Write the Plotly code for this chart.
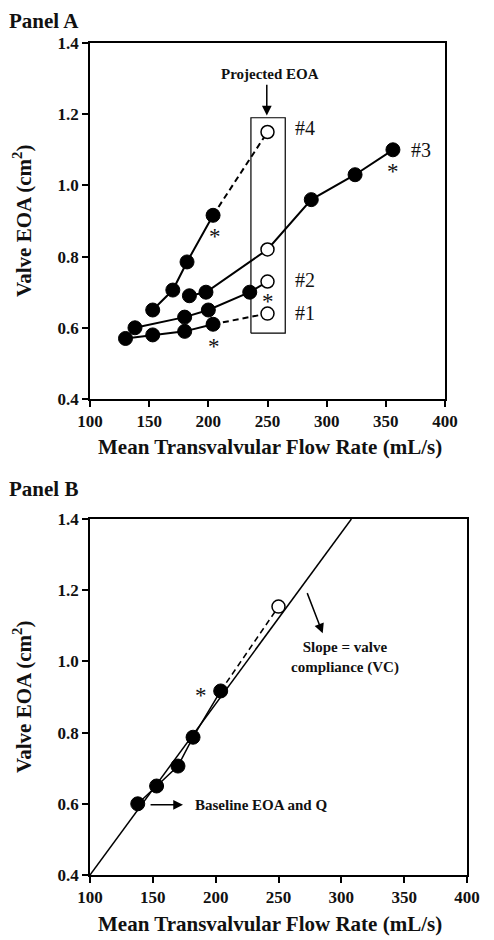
import plotly.graph_objects as go

# ---------------- data ----------------
# Panel A: four valves, measured (filled) and projected EOA at 250 mL/s (open)
s1_x = [130, 153, 180, 204]
s1_y = [0.57, 0.58, 0.59, 0.61]
s1_proj_x = [250]
s1_proj_y = [0.64]

s2_x = [138, 180, 200, 235]
s2_y = [0.60, 0.63, 0.65, 0.70]
s2_proj_x = [250]
s2_proj_y = [0.73]

s3_x = [184, 198, 287, 324, 356]
s3_y = [0.69, 0.70, 0.96, 1.03, 1.10]
s3_proj_x = [250]
s3_proj_y = [0.82]

s4_x = [153, 170, 182, 204]
s4_y = [0.65, 0.706, 0.785, 0.916]
s4_proj_x = [250]
s4_proj_y = [1.15]

# projected EOA box
box_x = [236, 265]
box_y = [0.585, 1.19]

# Panel B: one valve + linear fit (slope = valve compliance)
b_x = [138, 153, 170, 182, 204]
b_y = [0.60, 0.65, 0.706, 0.787, 0.917]
b_proj_x = [250]
b_proj_y = [1.154]
fit_x = [100, 308]
fit_y = [0.40, 1.40]

x_ticks = [100, 150, 200, 250, 300, 350, 400]
y_ticks = [0.4, 0.6, 0.8, 1.0, 1.2, 1.4]

FONT = "Liberation Serif"
W, H = 494, 940
OFF = 8  # page body margin of the html page

fig = go.Figure()

LW = 2
FILLED = dict(size=14, color="black", line=dict(color="black", width=1))
OPEN = dict(size=13, color="white", line=dict(color="black", width=1.5))
DASH = "6px,4px"


def add(x, y, xa, ya, mode="lines+markers", dash="solid", marker=None, width=LW):
    fig.add_trace(go.Scatter(x=x, y=y, xaxis=xa, yaxis=ya, mode=mode,
                             line=dict(color="black", width=width, dash=dash),
                             marker=marker, showlegend=False, hoverinfo="skip"))


# Panel A box (behind)
add([box_x[0], box_x[1], box_x[1], box_x[0], box_x[0]],
    [box_y[0], box_y[0], box_y[1], box_y[1], box_y[0]], "x", "y", mode="lines", width=1.2)

# series #1 : solid measured, dashed to projection
add(s1_x[-1:] + s1_proj_x, s1_y[-1:] + s1_proj_y, "x", "y", mode="lines", dash=DASH)
add(s1_x, s1_y, "x", "y", marker=FILLED)
add(s1_proj_x, s1_proj_y, "x", "y", mode="markers", marker=OPEN)

# series #2 : solid through projection
add(s2_x[-1:] + s2_proj_x, s2_y[-1:] + s2_proj_y, "x", "y", mode="lines")
add(s2_x, s2_y, "x", "y", marker=FILLED)
add(s2_proj_x, s2_proj_y, "x", "y", mode="markers", marker=OPEN)

# series #3 : solid line, projection lies between measured points
s3_all = sorted(zip(s3_x + s3_proj_x, s3_y + s3_proj_y))
add([p[0] for p in s3_all], [p[1] for p in s3_all], "x", "y", mode="lines")
add(s3_x, s3_y, "x", "y", mode="markers", marker=FILLED)
add(s3_proj_x, s3_proj_y, "x", "y", mode="markers", marker=OPEN)

# series #4 : dashed to projection
add(s4_x[-1:] + s4_proj_x, s4_y[-1:] + s4_proj_y, "x", "y", mode="lines", dash=DASH)
add(s4_x, s4_y, "x", "y", marker=FILLED)
add(s4_proj_x, s4_proj_y, "x", "y", mode="markers", marker=OPEN)

# Panel B
add(fit_x, fit_y, "x2", "y2", mode="lines", width=1.5)
add(b_x[-1:] + b_proj_x, b_y[-1:] + b_proj_y, "x2", "y2", mode="lines", dash=DASH, width=1.5)
add(b_x, b_y, "x2", "y2", marker=FILLED, width=1.5)
add(b_proj_x, b_proj_y, "x2", "y2", mode="markers", marker=OPEN)


def axis(domain, anchor, ticks, rng, fmt=None):
    d = dict(domain=domain, anchor=anchor, range=rng, tickvals=ticks, automargin=False,
             showgrid=False, zeroline=False, showline=True, mirror=True,
             linecolor="black", linewidth=1.5, ticks="outside", ticklen=6,
             tickwidth=1.5, tickcolor="black",
             tickfont=dict(family=FONT, size=17, color="#111", weight="bold"))
    if fmt:
        d["tickformat"] = fmt
    return d


def px_x(p):
    return (p - OFF) / W


def px_y(p):
    return 1 - (p - OFF) / H


fig.update_layout(
    template="none",
    width=W, height=H, margin=dict(l=0, r=0, t=0, b=0, pad=0, autoexpand=False),
    paper_bgcolor="white", plot_bgcolor="white",
    xaxis=axis([px_x(90), px_x(445)], "y", x_ticks, [100, 400]),
    yaxis=axis([px_y(399), px_y(43)], "x", y_ticks, [0.4, 1.4], ".1f"),
    xaxis2=axis([px_x(90), px_x(467)], "y2", x_ticks, [100, 400]),
    yaxis2=axis([px_y(875), px_y(519)], "x2", y_ticks, [0.4, 1.4], ".1f"),
)

ann = []


def text(x, y, t, xref, yref, size=16, bold=True, xanchor="center", yanchor="middle", angle=0):
    ann.append(dict(x=x, y=y, xref=xref, yref=yref, text=t, showarrow=False,
                    xanchor=xanchor, yanchor=yanchor, textangle=angle, borderpad=0,
                    font=dict(family=FONT, size=size, color="#111",
                              weight="bold" if bold else "normal")))


def arrow(x0, y0, x1, y1, xref, yref):
    ann.append(dict(x=x1, y=y1, ax=x0, ay=y0, xref=xref, yref=yref, axref=xref, ayref=yref,
                    text="", showarrow=True, arrowhead=2, arrowsize=1.3, arrowwidth=1.5,
                    arrowcolor="black"))


# panel titles and axis titles
text(px_x(8), px_y(8), "Panel A", "paper", "paper", size=21, xanchor="left", yanchor="top")
text(px_x(8), px_y(489), "Panel B", "paper", "paper", size=21, xanchor="left")
for yc, xt in [(221, 447), (697, 924)]:
    text(px_x(22), px_y(yc), "Valve EOA (cm<sup>2</sup>)", "paper", "paper", size=21, angle=-90)
    text(px_x(270), px_y(xt), "Mean Transvalvular Flow Rate (mL/s)", "paper", "paper", size=21)

# Panel A labels
text(252, 1.313, "Projected EOA", "x", "y", size=15)
arrow(249.4, 1.287, 249.4, 1.196, "x", "y")
text(272, 1.16, "#4", "x", "y", size=20, bold=False, xanchor="left")
text(370, 1.10, "#3", "x", "y", size=20, bold=False, xanchor="left")
text(272, 0.734, "#2", "x", "y", size=20, bold=False, xanchor="left")
text(272, 0.641, "#1", "x", "y", size=20, bold=False, xanchor="left")
for ax_, ay_ in [(205.7, 0.87), (356, 1.054), (250.7, 0.687), (204.8, 0.561)]:
    text(ax_, ay_ - 0.014, "*", "x", "y", size=23, bold=False)

# Panel B labels
text(303, 1.012, "Slope = valve<br>compliance (VC)", "x2", "y2", size=15)
arrow(272.4, 1.196, 285.2, 1.079, "x2", "y2")
text(188.3, 0.917 - 0.014, "*", "x2", "y2", size=23, bold=False)
arrow(147, 0.597, 174, 0.597, "x2", "y2")
text(183, 0.597, "Baseline EOA and Q", "x2", "y2", size=15, xanchor="left")

fig.update_layout(annotations=ann)
fig.write_html("out.html")
